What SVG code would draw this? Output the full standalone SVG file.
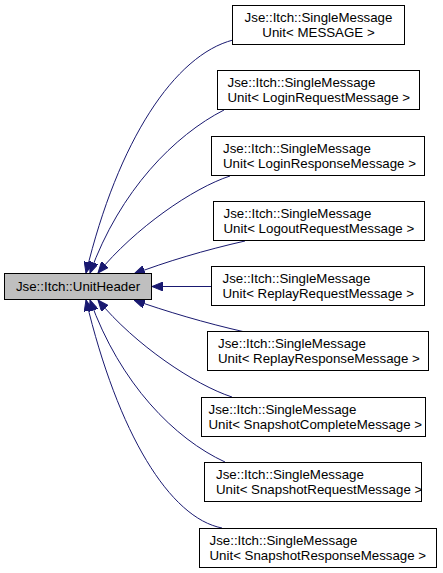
<svg xmlns="http://www.w3.org/2000/svg" width="443" height="573" viewBox="0 0 443 573">
<style>
.n rect{fill:#ffffff;stroke:#000000;stroke-width:1}
.m rect{fill:#bfbfbf;stroke:#000000;stroke-width:1}
text{font-family:"Liberation Sans",Arial,Helvetica,sans-serif;font-size:13.3px;fill:#000000}
.e path{fill:none;stroke:#191970;stroke-width:1;marker-end:url(#a)}
</style>
<defs>
<marker id="a" markerUnits="userSpaceOnUse" markerWidth="11" markerHeight="9" viewBox="0 0 11 9" refX="11" refY="4.5" orient="auto">
<path d="M0,0 L11,4.5 L0,9 z" fill="#191970" stroke="#191970" stroke-width="1"/>
</marker>
</defs>
<rect width="443" height="573" fill="#ffffff"/>
<g id="edges" class="e">
<path d="M233,40 C175,55 118,140 86,273"/>
<path d="M224,110 C175,135 120,190 90,273"/>
<path d="M230,176 C193,188 135,228 98,273"/>
<path d="M245,241 C205,250 165,262 134,274"/>
<path d="M211,286.5 L152,286.5"/>
<path d="M245,332 C205,323 165,311 134,300"/>
<path d="M232,397 C195,385 135,345 98,300"/>
<path d="M225,462 C175,439 120,384 90,300"/>
<path d="M222,528 C170,518 118,434 86,300"/>
</g>
<g id="UnitHeader" class="m">
<rect x="4.5" y="273.5" width="147" height="26"/>
<text x="78" y="291" text-anchor="middle">Jse::Itch::UnitHeader</text>
</g>
<g id="SM_MESSAGE" class="n">
<rect x="232.5" y="5.5" width="172" height="39"/>
<text x="318.5" y="22" text-anchor="middle">Jse::Itch::SingleMessage</text>
<text x="318.5" y="37" text-anchor="middle">Unit&lt; MESSAGE &gt;</text>
</g>
<g id="SM_LoginRequest" class="n">
<rect x="217.5" y="70.5" width="202" height="39"/>
<text x="227.5" y="87">Jse::Itch::SingleMessage</text>
<text x="227.5" y="102">Unit&lt; LoginRequestMessage &gt;</text>
</g>
<g id="SM_LoginResponse" class="n">
<rect x="211.5" y="136.5" width="213" height="39"/>
<text x="223" y="153">Jse::Itch::SingleMessage</text>
<text x="223" y="168">Unit&lt; LoginResponseMessage &gt;</text>
</g>
<g id="SM_LogoutRequest" class="n">
<rect x="213.5" y="201.5" width="211" height="39"/>
<text x="223.5" y="218">Jse::Itch::SingleMessage</text>
<text x="223.5" y="233">Unit&lt; LogoutRequestMessage &gt;</text>
</g>
<g id="SM_ReplayRequest" class="n">
<rect x="211.5" y="266.5" width="213" height="39"/>
<text x="222.5" y="283">Jse::Itch::SingleMessage</text>
<text x="222.5" y="298">Unit&lt; ReplayRequestMessage &gt;</text>
</g>
<g id="SM_ReplayResponse" class="n">
<rect x="207.5" y="331.5" width="221" height="39"/>
<text x="218" y="348">Jse::Itch::SingleMessage</text>
<text x="218" y="363">Unit&lt; ReplayResponseMessage &gt;</text>
</g>
<g id="SM_SnapshotComplete" class="n">
<rect x="201.5" y="397.5" width="224" height="39"/>
<text x="208.5" y="414">Jse::Itch::SingleMessage</text>
<text x="208.5" y="429">Unit&lt; SnapshotCompleteMessage &gt;</text>
</g>
<g id="SM_SnapshotRequest" class="n">
<rect x="204.5" y="462.5" width="217" height="39"/>
<text x="216" y="479">Jse::Itch::SingleMessage</text>
<text x="216" y="494">Unit&lt; SnapshotRequestMessage &gt;</text>
</g>
<g id="SM_SnapshotResponse" class="n">
<rect x="199.5" y="528.5" width="237" height="39"/>
<text x="209.5" y="545">Jse::Itch::SingleMessage</text>
<text x="209.5" y="560">Unit&lt; SnapshotResponseMessage &gt;</text>
</g>
</svg>
